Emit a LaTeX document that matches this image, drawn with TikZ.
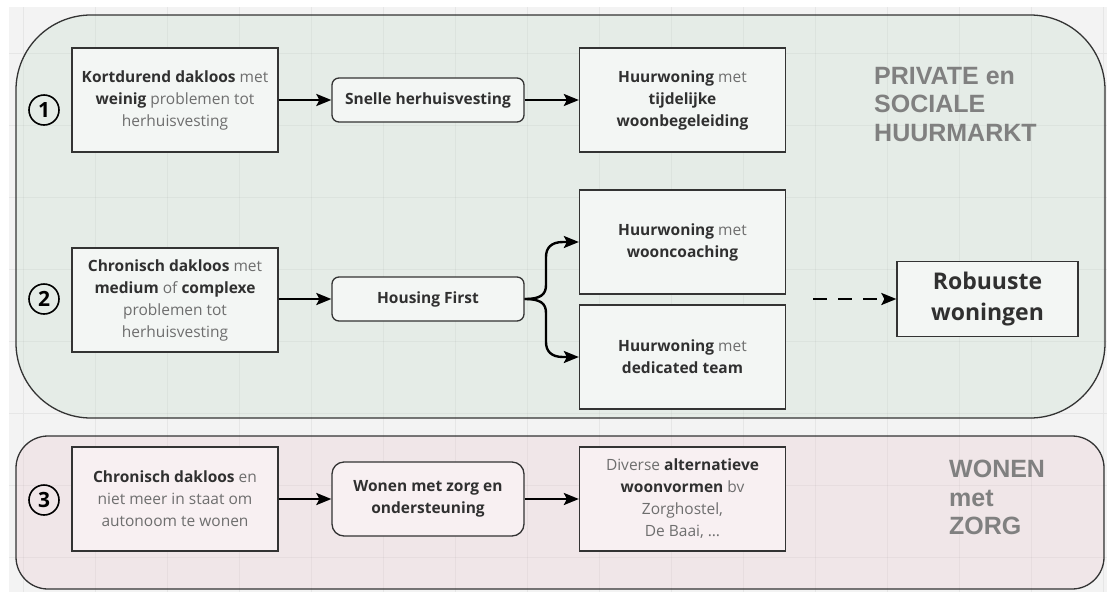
\documentclass[tikz,border=0pt]{standalone}
\usepackage{fontspec}
\setmainfont{Open Sans}
\newfontfamily\labelfont{Liberation Sans}
\usetikzlibrary{arrows.meta}
\definecolor{pagebg}{HTML}{F3F3F3}
\definecolor{gridc}{HTML}{E6E6E6}
\definecolor{greenfill}{HTML}{E5ECE7}
\definecolor{greenbox}{HTML}{F3F6F4}
\definecolor{pinkfill}{HTML}{F0E6E8}
\definecolor{pinkbox}{HTML}{F8F0F2}
\definecolor{edge}{HTML}{333333}
\definecolor{txtdark}{HTML}{303030}
\definecolor{txtlight}{HTML}{6E6E6E}
\definecolor{labelgrey}{HTML}{808080}
\newcommand\bt[1]{{\color{txtdark}\bfseries #1}}
\begin{document}
\begin{tikzpicture}[x=1pt,y=-1pt,
  box/.style={draw=edge, line width=1.3pt, minimum width=206pt, minimum height=104pt, inner sep=2pt, align=center, font=\fontsize{15.5}{22}\selectfont, text=txtlight},
  gbox/.style={box, fill=greenbox},
  pbox/.style={box, fill=pinkbox},
  proc/.style={draw=edge, line width=1.3pt, rounded corners=7pt, minimum width=192pt, minimum height=44pt, inner sep=2pt, align=center, font=\fontsize{15.5}{22}\selectfont\bfseries, text=txtdark},
  num/.style={circle, draw=black, line width=1.6pt, minimum size=30pt, inner sep=0pt, font=\fontsize{21}{21}\selectfont\bfseries, text=black},
  arr/.style={line width=2.4pt, -{Stealth[length=15pt,width=12pt,inset=3pt]}},
  grouplabel/.style={anchor=north west, inner sep=0pt, align=left, text=labelgrey, font=\labelfont\bfseries\fontsize{25}{28.5}\selectfont}
]
\useasboundingbox (0,0) rectangle (1107,592);
\fill[white] (0,0) rectangle (1107,592);
\fill[pagebg] (9,7) rectangle (1107,592);
\foreach \x in {23,95,...,1103} \draw[gridc] (\x,7) -- (\x,592);
\foreach \y in {53,125,...,592} \draw[gridc] (9,\y) -- (1107,\y);

% frames
\draw[draw=edge, line width=1.3pt, fill=greenfill, rounded corners=75pt] (16,15) rectangle (1105,418);
\draw[draw=edge, line width=1.3pt, fill=pinkfill, rounded corners=32pt] (16,436) rectangle (1104,589);
\begin{scope}
\clip[rounded corners=75pt] (16,15) rectangle (1105,418);
\foreach \x in {23,95,...,1103} \draw[black, opacity=0.035] (\x,15) -- (\x,418);
\foreach \y in {53,125,...,418} \draw[black, opacity=0.035] (16,\y) -- (1105,\y);
\end{scope}
\begin{scope}
\clip[rounded corners=32pt] (16,436) rectangle (1104,589);
\foreach \x in {23,95,...,1103} \draw[black, opacity=0.035] (\x,436) -- (\x,589);
\foreach \y in {485,557} \draw[black, opacity=0.035] (16,\y) -- (1104,\y);
\end{scope}

% group labels
\node[grouplabel] (lab1) at (874,67) {PRIVATE en\\SOCIALE\\HUURMARKT};
\node[grouplabel] (lab2) at (949,460) {WONEN\\met\\ZORG};

% numbers
\node[num] (n1) at (44,110) {1};
\node[num] (n2) at (44,299) {2};
\node[num] (n3) at (44,500) {3};

% row 1
\node[gbox] (A1) at (175,100) {\bt{Kortdurend dakloos} met\\\bt{weinig} problemen tot\\herhuisvesting};
\node[proc, fill=greenbox] (B1) at (428,100) {Snelle herhuisvesting};
\node[gbox] (C1) at (682.5,100) {\bt{Huurwoning} met\\\bt{tijdelijke}\\\bt{woonbegeleiding}};
\draw[arr] (A1) -- (B1);
\draw[arr] (B1) -- (C1);

% row 2
\node[gbox] (A2) at (175,300) {\bt{Chronisch dakloos} met\\\bt{medium} of \bt{complexe}\\problemen tot\\herhuisvesting};
\node[proc, fill=greenbox] (B2) at (428,299) {Housing First};
\node[gbox] (C2) at (682.5,242) {\bt{Huurwoning} met\\\bt{wooncoaching}};
\node[gbox] (D2) at (682.5,357) {\bt{Huurwoning} met\\\bt{dedicated team}};
\node[draw=edge, line width=1.3pt, fill=greenbox, minimum width=181pt, minimum height=75pt, align=center, text=txtdark, font=\fontsize{23}{31}\selectfont\bfseries] (R) at (987.5,299) {Robuuste\\woningen};
\draw[arr] (A2.east |- B2) -- (B2);
\coordinate (bu1) at (546,285);
\coordinate (bu2) at (546,257);
\coordinate (bd1) at (546,313);
\coordinate (bd2) at (546,342);
\draw[arr] (B2.east) .. controls (540,299) and (546,295) .. (bu1) -- (bu2) .. controls (546,248) and (551,242) .. (563,242) -- (C2.west);
\draw[arr] (B2.east) .. controls (540,299) and (546,303) .. (bd1) -- (bd2) .. controls (546,351) and (551,357) .. (563,357) -- (D2.west);
\coordinate (ds) at (813,299);
\draw[arr, dash pattern=on 14pt off 11pt] (ds) -- (R.west);

% row 3
\node[pbox] (A3) at (175,499) {\bt{Chronisch dakloos} en\\niet meer in staat om\\autonoom te wonen};
\node[proc, fill=pinkbox, rounded corners=12pt, minimum height=74pt] (B3) at (428,499) {Wonen met zorg en\\ondersteuning};
\node[pbox] (C3) at (682.5,499) {Diverse \bt{alternatieve}\\\bt{woonvormen} bv\\Zorghostel,\\De Baai, …};
\draw[arr] (A3) -- (B3);
\draw[arr] (B3) -- (C3);
\end{tikzpicture}
\end{document}
